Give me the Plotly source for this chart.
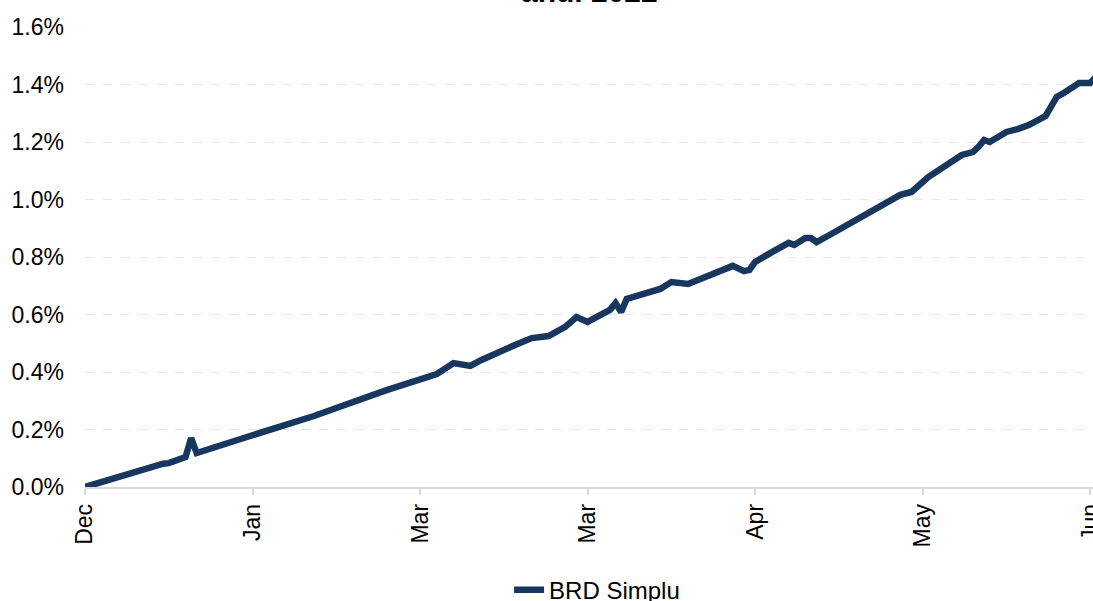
import plotly.graph_objects as go

# Data (cumulative return, %)
dates = [
    "2021-12-31", "2022-01-05", "2022-01-12", "2022-01-14", "2022-01-15",
    "2022-01-18", "2022-01-19", "2022-01-20", "2022-01-29", "2022-02-04",
    "2022-02-10", "2022-02-14", "2022-02-23", "2022-03-04", "2022-03-07",
    "2022-03-10", "2022-03-12", "2022-03-18", "2022-03-21", "2022-03-24",
    "2022-03-27", "2022-03-29", "2022-03-31", "2022-04-02", "2022-04-04",
    "2022-04-05", "2022-04-06", "2022-04-07", "2022-04-13", "2022-04-15",
    "2022-04-18", "2022-04-26", "2022-04-28", "2022-04-29", "2022-04-30",
    "2022-05-03", "2022-05-05", "2022-05-06", "2022-05-07", "2022-05-09",
    "2022-05-10", "2022-05-11", "2022-05-13", "2022-05-19", "2022-05-24",
    "2022-05-26", "2022-05-28", "2022-05-31", "2022-06-06", "2022-06-08",
    "2022-06-09", "2022-06-10", "2022-06-11", "2022-06-14", "2022-06-16",
    "2022-06-18", "2022-06-21", "2022-06-22", "2022-06-23", "2022-06-24",
    "2022-06-27", "2022-06-29", "2022-06-30",
]
brd_simplu = [
    0.000, 0.031, 0.070, 0.081, 0.083,
    0.104, 0.170, 0.118, 0.174, 0.209,
    0.247, 0.275, 0.337, 0.393, 0.431,
    0.421, 0.442, 0.494, 0.518, 0.525,
    0.557, 0.591, 0.574, 0.595, 0.616,
    0.640, 0.609, 0.654, 0.689, 0.713,
    0.706, 0.769, 0.751, 0.755, 0.783,
    0.817, 0.838, 0.849, 0.842, 0.866,
    0.866, 0.852, 0.873, 0.939, 0.991,
    1.016, 1.026, 1.078, 1.155, 1.165,
    1.183, 1.207, 1.200, 1.235, 1.245,
    1.259, 1.290, 1.322, 1.357, 1.367,
    1.405, 1.405, 1.426,
]
series_name = "BRD Simplu"
title_text = "anul 2022"

FONT = "Liberation Sans, Arial, sans-serif"
LINE_COLOR = "#17375e"

fig = go.Figure()
fig.add_trace(go.Scatter(
    x=dates, y=brd_simplu, mode="lines", name=series_name,
    line=dict(color=LINE_COLOR, width=6.5),
))

fig.update_layout(
    width=1093, height=601,
    margin=dict(l=85, r=0, t=27, b=114, autoexpand=False),
    paper_bgcolor="white", plot_bgcolor="white",
    font=dict(family=FONT, size=23, color="#000000"),
    showlegend=True,
    legend=dict(orientation="h", x=0.508, xanchor="center", y=-0.224,
                yanchor="middle", font=dict(size=24)),
    annotations=[dict(
        text="<b>" + title_text + "</b>", xref="paper", yref="paper",
        x=0.5, y=1, xanchor="center", yanchor="bottom", yshift=17,
        showarrow=False, font=dict(size=30, family=FONT, color="#000000"),
    )],
)

fig.update_xaxes(
    type="date", automargin=False,
    range=["2021-12-31", "2022-06-29 12:00"],
    tick0="2021-12-31", dtick=30 * 86400000, tickformat="%b",
    tickangle=-90, ticklabeloverflow="allow",
    ticks="outside", ticklen=6, tickcolor="#d9d9d9", tickwidth=1.5,
    showline=True, linecolor="#d9d9d9", linewidth=1.5,
    showgrid=False, zeroline=False,
    tickfont=dict(size=23),
)
fig.update_yaxes(
    automargin=False,
    range=[0, 1.6], dtick=0.2, tick0=0,
    tickformat=".1f", ticksuffix="%",
    showgrid=True, gridcolor="#e6e6e6", griddash="dash", gridwidth=1,
    zeroline=False, showline=False,
    ticks="", ticklabelstandoff=20,
    tickfont=dict(size=23),
)

# Remove the default 8px page margin so the figure fills the window exactly.
fig.write_html("out.html",
               config={"displayModeBar": False},
               post_script="document.body.style.margin='0px';")
